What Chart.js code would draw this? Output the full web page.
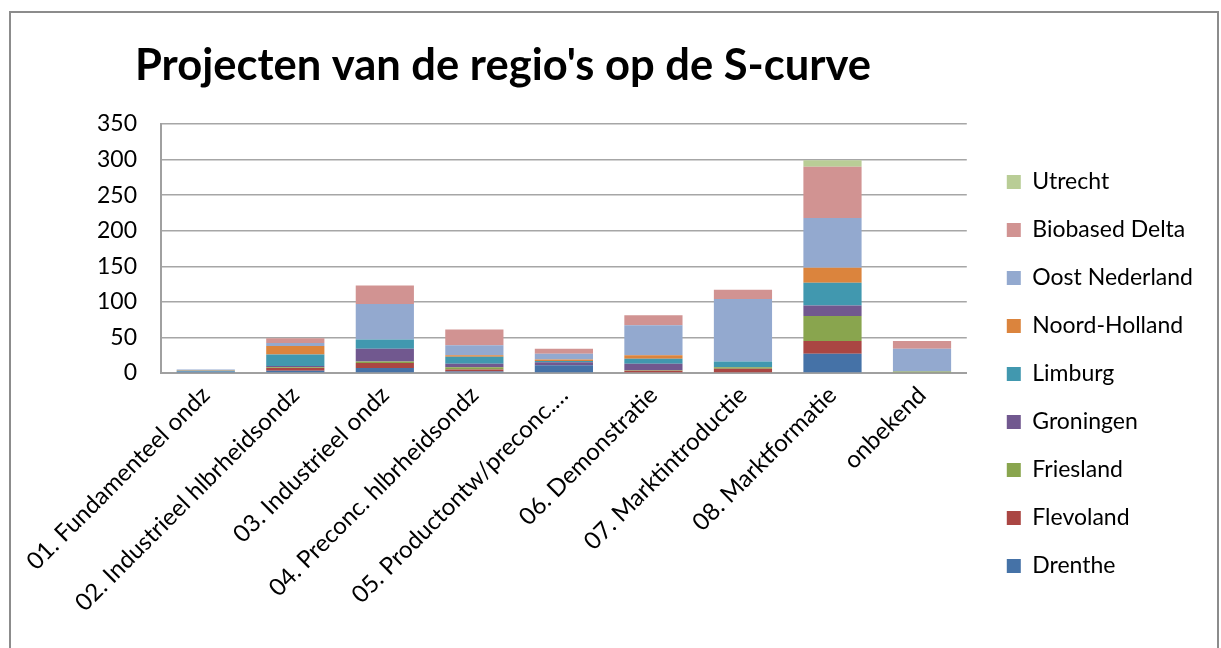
<!DOCTYPE html>
<html>
<head>
<meta charset="utf-8">
<script src="https://cdn.jsdelivr.net/npm/chart.js@4/dist/chart.umd.min.js"></script>
<style>
  body { margin: 0; background: #fff; }
  #wrap { position: absolute; left: 0; top: 0; width: 1221px; height: 648px; }
  #frame { position: absolute; left: 9px; top: 11px; width: 1206px; height: 660px;
           border: 2px solid #8c8c8c; pointer-events: none; }
</style>
</head>
<body>
<div id="wrap"><canvas id="myChart" width="1221" height="648"></canvas></div>
<div id="frame"></div>
<script>
    /*** Datos */
    var titulo = "Projecten van de regio's op de S-curve";
    var fases = [
        "01. Fundamenteel ondz", "02. Industrieel hlbrheidsondz", "03. Industrieel ondz",
        "04. Preconc. hlbrheidsondz", "05. Productontw/preconc.\u2026", "06. Demonstratie",
        "07. Marktintroductie", "08. Marktformatie", "onbekend"
    ];
    var drenthe       = [2, 3, 7, 2, 11, 0, 0, 27, 0];
    var flevoland     = [0, 4, 7, 3, 0, 3, 6, 18, 0];
    var friesland     = [0, 1, 2, 3, 0, 1, 2, 35, 2];
    var groningen     = [0, 2, 18, 5, 4, 9, 0, 15, 0];
    var limburg       = [1, 16, 13, 10, 2, 7, 8, 32, 0];
    var noordHolland  = [1, 12, 0, 2, 2, 5, 0, 21, 0];
    var oostNederland = [1, 4, 50, 14, 8, 42, 88, 70, 32];
    var biobasedDelta = [0, 7, 26, 22, 7, 14, 13, 72, 11];
    var utrecht       = [0, 0, 0, 0, 0, 0, 0, 9, 0];
    var yTicks = [0, 50, 100, 150, 200, 250, 300, 350];

    var fuente = "Lato, 'Open Sans', sans-serif";
    var hueco = 15; // espacio extra entre el grafico y la leyenda

    function serie(label, data, color) {
        return { label: label, data: data, backgroundColor: color, borderWidth: 0,
                 barPercentage: 0.65, categoryPercentage: 1 };
    }

    // titulo dibujado a mano para poder ponerlo donde esta en el original
    var tituloPlugin = {
        id: 'tituloPlugin',
        afterDraw: function (chart) {
            var c = chart.ctx;
            c.save();
            c.font = "bold 43.5px " + fuente;
            c.fillStyle = '#000';
            c.textBaseline = 'alphabetic';
            c.textAlign = 'left';
            c.fillText(titulo, 135, 80);
            c.restore();
        }
    };

    // la leyenda ocupa un poco mas de ancho y se dibuja desplazada
    var huecoLeyenda = {
        id: 'huecoLeyenda',
        beforeLayout: function (chart) {
            var lg = chart.legend;
            if (!lg || lg._conHueco) return;
            lg._conHueco = true;
            var fitOrig = lg.fit;
            lg.fit = function () {
                fitOrig.apply(this, arguments);
                this.width += hueco;
            };
            var drawOrig = lg.draw;
            lg.draw = function () {
                var c = this.ctx;
                c.save();
                c.translate(hueco, 0);
                drawOrig.apply(this, arguments);
                c.restore();
            };
        }
    };

    var ctx = document.getElementById("myChart").getContext('2d');
    var myChart = new Chart(ctx, {
        type: 'bar',
        data: {
            labels: fases,
            datasets: [
                serie('Drenthe', drenthe, '#4572A7'),
                serie('Flevoland', flevoland, '#AA4643'),
                serie('Friesland', friesland, '#89A54E'),
                serie('Groningen', groningen, '#71588F'),
                serie('Limburg', limburg, '#4198AF'),
                serie('Noord-Holland', noordHolland, '#DB843D'),
                serie('Oost Nederland', oostNederland, '#93A9CF'),
                serie('Biobased Delta', biobasedDelta, '#D19392'),
                serie('Utrecht', utrecht, '#B9CD96')
            ]
        },
        plugins: [tituloPlugin, huecoLeyenda],
        options: {
            responsive: false,
            animation: false,
            layout: { padding: { left: 97, right: 18, top: 124, bottom: 24 } },
            plugins: {
                title: { display: false },
                legend: {
                    position: 'right',
                    reverse: true,
                    labels: {
                        color: '#000',
                        font: { family: fuente, size: 23 },
                        boxWidth: 14, boxHeight: 14,
                        padding: 25
                    }
                },
                tooltip: { enabled: false }
            },
            scales: {
                x: {
                    stacked: true,
                    afterFit: function (axis) { axis.height = 251; },
                    grid: { display: false, drawTicks: false },
                    border: { color: '#a0a0a0', width: 2 },
                    ticks: {
                        color: '#000', minRotation: 45, maxRotation: 45, autoSkip: false,
                        padding: 8,
                        font: { family: fuente, size: 24 }
                    }
                },
                y: {
                    stacked: true,
                    min: 0, max: 350,
                    afterBuildTicks: function (axis) {
                        axis.ticks = yTicks.map(function (v) { return { value: v }; });
                    },
                    afterFit: function (axis) { axis.width = 64; },
                    grid: { color: '#a6a6a6', lineWidth: 1.5, drawTicks: false },
                    border: { color: '#a0a0a0', width: 2 },
                    ticks: {
                        color: '#000', padding: 24,
                        font: { family: fuente, size: 23 }
                    }
                }
            }
        }
    });
</script>
</body>
</html>
